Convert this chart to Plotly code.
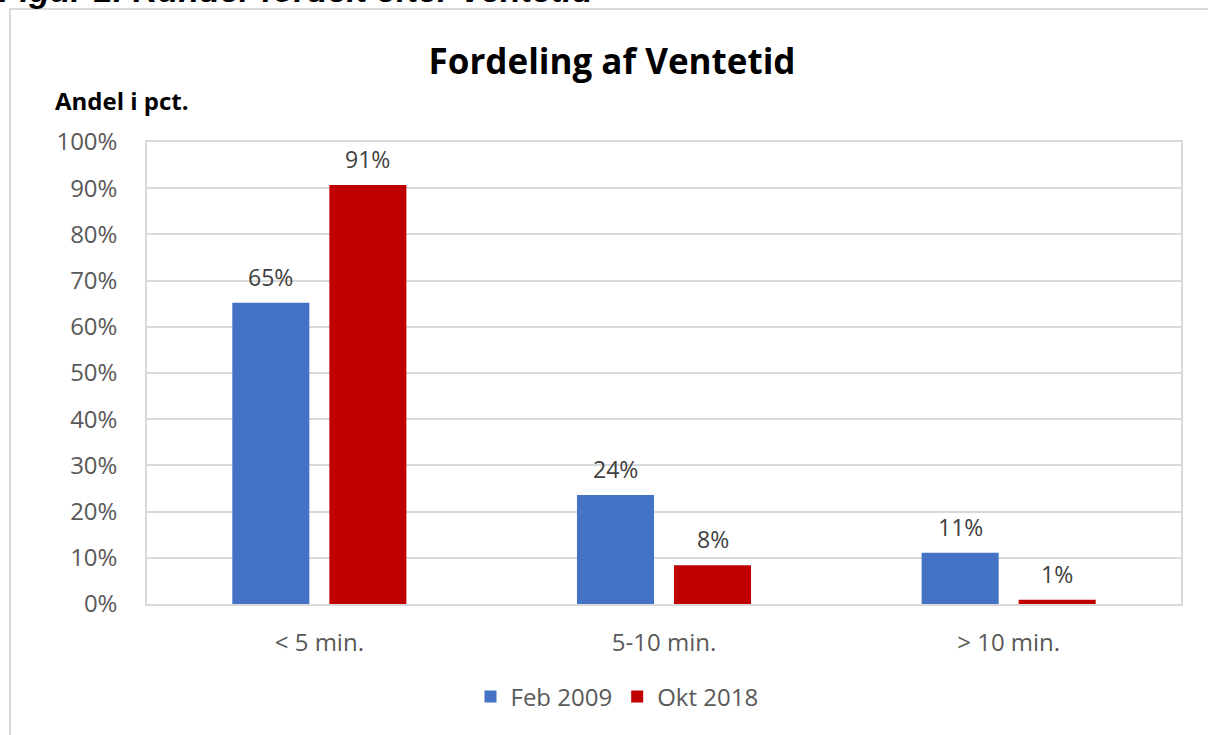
import plotly.graph_objects as go

categories = ["< 5 min.", "5-10 min.", "> 10 min."]
feb_2009 = [65.2, 23.6, 11.1]
okt_2018 = [90.7, 8.4, 0.9]
y_ticks = [0, 10, 20, 30, 40, 50, 60, 70, 80, 90, 100]
y_tick_labels = [f"{v}%" for v in y_ticks]
series_names = ["Feb 2009", "Okt 2018"]
series_colors = ["#4472C4", "#C00000"]

W, H = 1208, 735
L, R, T, B = 147, 27, 142, 131
pw = W - L - R
ph = H - T - B

def px_x(px):
    return (px - L) / pw

def px_y(py):
    return (H - B - py) / ph

font = "Open Sans"
fig = go.Figure()
for name, vals, col in zip(series_names, [feb_2009, okt_2018], series_colors):
    fig.add_trace(go.Bar(name=name, x=categories, y=vals, marker=dict(color=col, line=dict(width=0))))

annotations = []
for vals, shift in zip([feb_2009, okt_2018], [-48.5, 48.5]):
    for c, v in zip(categories, vals):
        annotations.append(dict(x=c, y=v, xref="x", yref="y", text=f"{v:.0f}%", showarrow=False,
                                xshift=shift, yshift=8, yanchor="bottom", xanchor="center",
                                font=dict(family=font, size=23, color="#404040")))

annotations += [
    dict(text="<b>Andel i pct.</b>", x=px_x(53), y=px_y(100), xref="paper", yref="paper",
         xanchor="left", yanchor="middle", showarrow=False,
         font=dict(family=font, size=24, color="#000000")),
    dict(text="<b><i>Figur 1: Kunder fordelt efter Ventetid</i></b>", x=px_x(-3), y=px_y(10.5),
         xref="paper", yref="paper", xanchor="left", yanchor="bottom", showarrow=False,
         font=dict(family="Liberation Sans", size=34, color="#000000")),
]

fig.update_layout(
    width=W, height=H,
    margin=dict(l=L, r=R, t=T, b=B, autoexpand=False),
    paper_bgcolor="white", plot_bgcolor="white",
    barmode="group", bargap=0.437, bargroupgap=0.206,
    font=dict(family=font, color="#595959"),
    title=dict(text="<b>Fordeling af Ventetid</b>", x=px_x(612), xref="paper",
               xanchor="center", y=1 - 62 / H, yanchor="middle",
               font=dict(family=font, size=35, color="#000000")),
    showlegend=True,
    legend=dict(orientation="h", x=px_x(617), xanchor="center", y=px_y(697), yanchor="middle",
                font=dict(family=font, size=24, color="#595959"),
                itemwidth=30, traceorder="normal"),
    xaxis=dict(showgrid=False, showline=True, linecolor="#d9d9d9", linewidth=1.5,
               mirror=True, ticks="", tickfont=dict(family=font, size=24, color="#595959"),
               ticklabelstandoff=16),
    yaxis=dict(range=[0, 100], tickvals=y_ticks, ticktext=y_tick_labels,
               showgrid=True, gridcolor="#d9d9d9", gridwidth=1.5,
               showline=True, linecolor="#d9d9d9", linewidth=1.5, mirror=True,
               ticks="", zeroline=False, ticklabelstandoff=23,
               tickfont=dict(family=font, size=24, color="#595959")),
    annotations=annotations,
    shapes=[
        dict(type="rect", xref="paper", yref="paper", x0=px_x(10), x1=px_x(1230),
             y0=px_y(760), y1=px_y(9), line=dict(color="#d9d9d9", width=2), layer="below"),
    ],
)

fig.write_html("out.html", config={"displayModeBar": False},
               post_script="document.body.style.margin='0';document.body.style.overflow='hidden';")
